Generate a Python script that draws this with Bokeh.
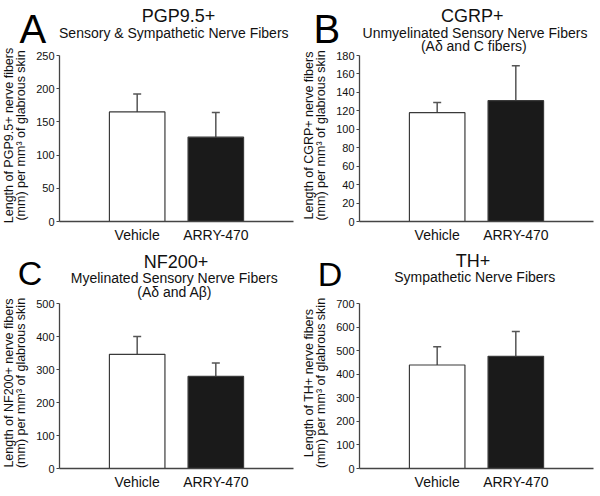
import math
from bokeh.plotting import figure
from bokeh.models import (ColumnDataSource, FactorRange, Range1d, FixedTicker,
                          Whisker, TeeHead)
from bokeh.core.properties import value
from bokeh.layouts import gridplot
from bokeh.embed import file_html
from bokeh.resources import INLINE

# ---------------- data ----------------
categories = ["Vehicle", "ARRY-470"]
bar_colors = ["#ffffff", "#1a1a1a"]

pgp_mean = [165, 127]
pgp_sem = [27, 37]
pgp_ticks = [0, 50, 100, 150, 200, 250]

cgrp_mean = [118, 131]
cgrp_sem = [11, 38]
cgrp_ticks = [0, 20, 40, 60, 80, 100, 120, 140, 160, 180]

nf_mean = [346, 279]
nf_sem = [54, 41]
nf_ticks = [0, 100, 200, 300, 400, 500]

th_mean = [439, 476]
th_sem = [77, 105]
th_ticks = [0, 100, 200, 300, 400, 500, 600, 700]

FONT = "Liberation Sans"
TXT = "#111111"
AX = "#444444"
PAD = 0.488
K = 0.35  # baseline correction (fraction of font size)


def make_panel(letter, letter_pos, letter_size, title, title_pos, subs,
               ylabel, means, sems, ticks, W, H, left, right, top, bottom,
               ylab_x):
    src = ColumnDataSource(dict(
        x=categories, top=means,
        upper=[m + s for m, s in zip(means, sems)],
        color=bar_colors))
    ymax = ticks[-1]
    p = figure(x_range=FactorRange(factors=categories, range_padding=PAD),
               y_range=Range1d(0, ymax),
               width=W, height=H, min_border_left=left, min_border_right=right,
               min_border_top=top, min_border_bottom=bottom,
               output_backend="svg", toolbar_location=None)
    p.outline_line_color = None
    p.xgrid.visible = False
    p.ygrid.visible = False
    p.background_fill_color = "white"
    p.border_fill_color = "white"

    p.yaxis.ticker = FixedTicker(ticks=ticks)
    p.yaxis.minor_tick_line_color = None
    p.yaxis.major_tick_in = 0
    p.yaxis.major_tick_out = 3
    p.yaxis.major_tick_line_color = AX
    p.yaxis.major_tick_line_width = 1.2
    p.yaxis.axis_line_color = AX
    p.yaxis.axis_line_width = 1.3
    p.yaxis.major_label_text_font = FONT
    p.yaxis.major_label_text_font_size = "11px"
    p.yaxis.major_label_text_color = TXT
    p.yaxis.major_label_standoff = 2

    p.xaxis.major_tick_line_color = None
    p.xaxis.minor_tick_line_color = None
    p.xaxis.major_tick_out = 0
    p.xaxis.major_tick_in = 0
    p.xaxis.axis_line_color = AX
    p.xaxis.axis_line_width = 1.5
    p.xaxis.major_label_text_font = FONT
    p.xaxis.major_label_text_font_size = "14px"
    p.xaxis.major_label_text_color = TXT
    p.xaxis.major_label_standoff = 5

    p.vbar(x="x", top="top", bottom=0, width=0.706, fill_color="color",
           line_color="#3a3a3a", line_width=1.2, source=src)
    w = Whisker(source=src, base="x", lower="top", upper="upper",
                dimension="height", line_color="#555555", line_width=1.5,
                lower_head=None,
                upper_head=TeeHead(size=8, line_color="#555555", line_width=1.5))
    p.add_layout(w)

    fb = H - bottom          # frame bottom (px from figure top)
    fw = W - left - right    # frame width
    fh = fb - top            # frame height
    span = 2 + 2 * PAD

    def to_data(fx, fy):
        xd = -PAD + (fx - left) / fw * span
        yd = (fb - fy) / fh * ymax
        return xd, yd

    def add_text(text, fx, fy, size, align="center", rotated=False,
                 color=TXT):
        px = float(size.replace("px", ""))
        if rotated:
            fx = fx - K * px
        else:
            fy = fy - K * px
        xd, yd = to_data(fx, fy)
        p.text(x=[xd], y=[yd], text=[text], text_font=value(FONT),
               text_font_size=value(size), text_align=align,
               text_baseline="alphabetic", text_color=color,
               angle=(math.pi / 2 if rotated else 0.0), level="overlay")

    add_text(letter, letter_pos[0], letter_pos[1], letter_size, align="left",
             color="#000000")
    add_text(title, title_pos[0], title_pos[1], "18px")
    for s, sx, sy in subs:
        add_text(s, sx, sy, "14px")
    cy = (top + fb) / 2.0 - 3
    for line, lx in zip(ylabel, ylab_x):
        add_text(line, lx, cy, "12.5px", rotated=True)
    return p


pA = make_panel("A", (19, 42.3), "40px", "PGP9.5+", (178, 22),
                [("Sensory & Sympathetic Nerve Fibers", 173.3, 37.7)],
                ["Length of PGP9.5+ nerve fibers",
                 "(mm) per mm\u00b3 of glabrous skin"],
                pgp_mean, pgp_sem, pgp_ticks,
                300, 248, 59, 7, 55, 27, (12.7, 25))

pB = make_panel("B", (13, 42.3), "40px", "CGRP+", (171.7, 22),
                [("Unmyelinated Sensory Nerve Fibers", 174.5, 37.7),
                 ("(A\u03b4 and C fibers)", 173.3, 50)],
                ["Length of CGRP+ nerve fibers",
                 "(mm) per mm\u00b3 of glabrous skin"],
                cgrp_mean, cgrp_sem, cgrp_ticks,
                300, 248, 59, 7, 55, 27, (12.7, 25))

pC = make_panel("C", (17.3, 36.7), "34px", "NF200+", (175.5, 20),
                [("Myelinated Sensory Nerve Fibers", 173.7, 34.3),
                 ("(A\u03b4 and A\u03b2)", 174.3, 48)],
                ["Length of NF200+ nerve fibers",
                 "(mm) per mm\u00b3 of glabrous skin"],
                nf_mean, nf_sem, nf_ticks,
                300, 248, 59, 7, 55, 28, (12.7, 25))

pD = make_panel("D", (17.3, 37.7), "34px", "TH+", (172.5, 18.3),
                [("Sympathetic Nerve Fibers", 174.2, 33.3)],
                ["Length of TH+ nerve fibers",
                 "(mm) per mm\u00b3 of glabrous skin"],
                th_mean, th_sem, th_ticks,
                300, 248, 59, 7, 55, 28, (12.7, 25))

grid = gridplot([[pA, pB], [pC, pD]], toolbar_location=None)

open("out.html", "w").write(file_html(grid, INLINE))
